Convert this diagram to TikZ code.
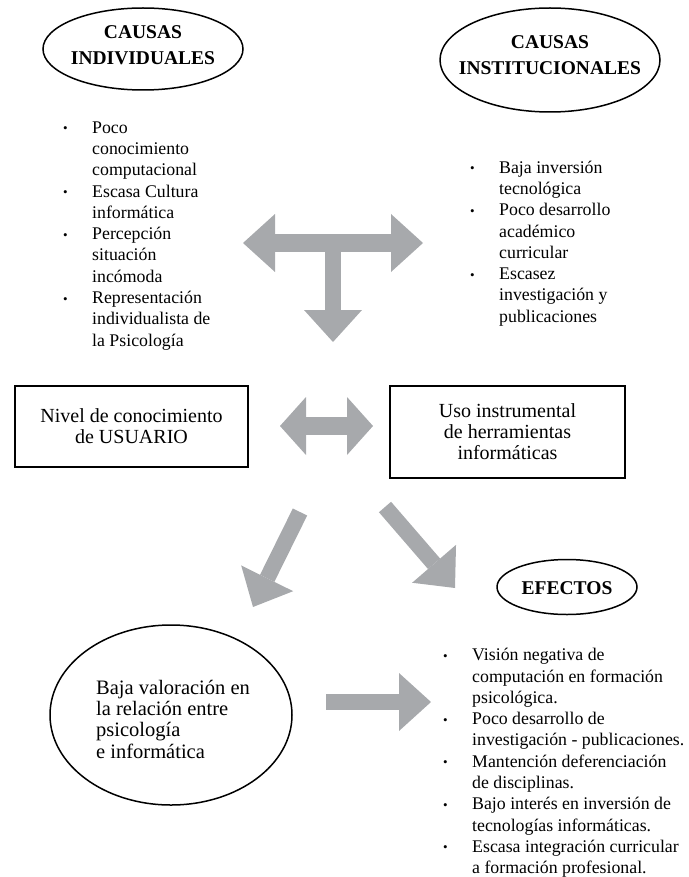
\documentclass[tikz,border=0pt]{standalone}
\usepackage{fontspec}
\setmainfont{Liberation Serif}
\usetikzlibrary{arrows.meta,shapes.geometric}
\definecolor{gris}{HTML}{A7A9AC}
\newcommand{\punto}{\raisebox{0.5pt}{\fontsize{13}{13}\selectfont •}}

\begin{document}
\begin{tikzpicture}[x=1pt, y=-1pt,
  titulo/.style={font=\fontsize{19.5}{26}\selectfont\bfseries, align=center, inner sep=0pt},
  ovalo/.style={draw, ellipse, line width=1.5pt, inner sep=0pt},
  lista/.style={font=\fontsize{17.8}{21.3}\selectfont, anchor=north west, inner sep=0pt},
  caja/.style={draw, line width=2.3pt, font=\fontsize{20}{21}\selectfont, align=center, inner sep=0pt},
  punta/.tip={Triangle[length=32pt, width=58pt, line width=0pt]},
  flecha/.style={draw=gris, line width=16pt, -punta}]
\useasboundingbox (0,0) rectangle (688,877);
% causas
\node[ovalo, minimum width=200pt, minimum height=82pt] (ci) at (143,49) {};
\node[titulo] (cit) at (143,45) {CAUSAS\\INDIVIDUALES};
\node[ovalo, minimum width=220pt, minimum height=104pt] (cn) at (550,60) {};
\node[titulo] (cnt) at (550,55) {CAUSAS\\INSTITUCIONALES};
\node[lista] (li) at (63,118) {\begin{tabular}{@{}p{29pt}@{}l@{}}
\punto&Poco\\
&conocimiento\\
&computacional\\
\punto&Escasa Cultura\\
&informática\\
\punto&Percepción\\
&situación\\
&incómoda\\
\punto&Representación\\
&individualista de\\
&la Psicología
\end{tabular}};
\node[lista] (ld) at (470,158) {\begin{tabular}{@{}p{29pt}@{}l@{}}
\punto&Baja inversión\\
&tecnológica\\
\punto&Poco desarrollo\\
&académico\\
&curricular\\
\punto&Escasez\\
&investigación y\\
&publicaciones
\end{tabular}};
% flecha en T
\coordinate (ti) at (243,243);
\coordinate (td) at (423,243);
\coordinate (tc) at (333,243);
\coordinate (tb) at (333,342);
\draw[flecha, punta-punta, line width=18pt] (ti) -- (td);
\draw[flecha] (tc) -- (tb);
% nivel y uso
\node[caja, minimum width=233pt, minimum height=81pt] (nivel) at (131.5,426.5)
  {Nivel de conocimiento\\de USUARIO};
\node[caja, minimum width=235pt, minimum height=92pt] (uso) at (507.5,432)
  {Uso instrumental\\de herramientas\\informáticas};
\coordinate (di) at (280,426);
\coordinate (dd) at (373,426);
\draw[flecha, {Triangle[length=26pt, width=58pt, line width=0pt]}-{Triangle[length=26pt, width=58pt, line width=0pt]}, line width=18pt] (di) -- (dd);
% efectos
\coordinate (a1) at (300,512);
\coordinate (b1) at (253,607);
\coordinate (a2) at (385,507);
\coordinate (b2) at (455,588);
\draw[flecha] (a1) -- (b1);
\draw[flecha] (a2) -- (b2);
\node[ovalo, minimum width=140pt, minimum height=55pt] (ef) at (567,587) {};
\node[titulo] (eft) at (567,588) {EFECTOS};
\node[ovalo, minimum width=242pt, minimum height=180pt] (bv) at (171,715) {};
\node[anchor=north west, inner sep=0pt, font=\fontsize{20.5}{21.3}\selectfont] (bvt) at (96,679)
  {\begin{tabular}{@{}l@{}}Baja valoración en\\la relación entre\\psicología\\e informática\end{tabular}};
\coordinate (a3) at (326,702);
\coordinate (b3) at (431,702);
\draw[flecha] (a3) -- (b3);
\node[lista] (le) at (443,645.6) {\begin{tabular}{@{}p{29pt}@{}l@{}}
\punto&Visión negativa de\\
&computación en formación\\
&psicológica.\\
\punto&Poco desarrollo de\\
&investigación - publicaciones.\\
\punto&Mantención deferenciación\\
&de disciplinas.\\
\punto&Bajo interés en inversión de\\
&tecnologías informáticas.\\
\punto&Escasa integración curricular\\
&a formación profesional.
\end{tabular}};
\end{tikzpicture}
\end{document}
